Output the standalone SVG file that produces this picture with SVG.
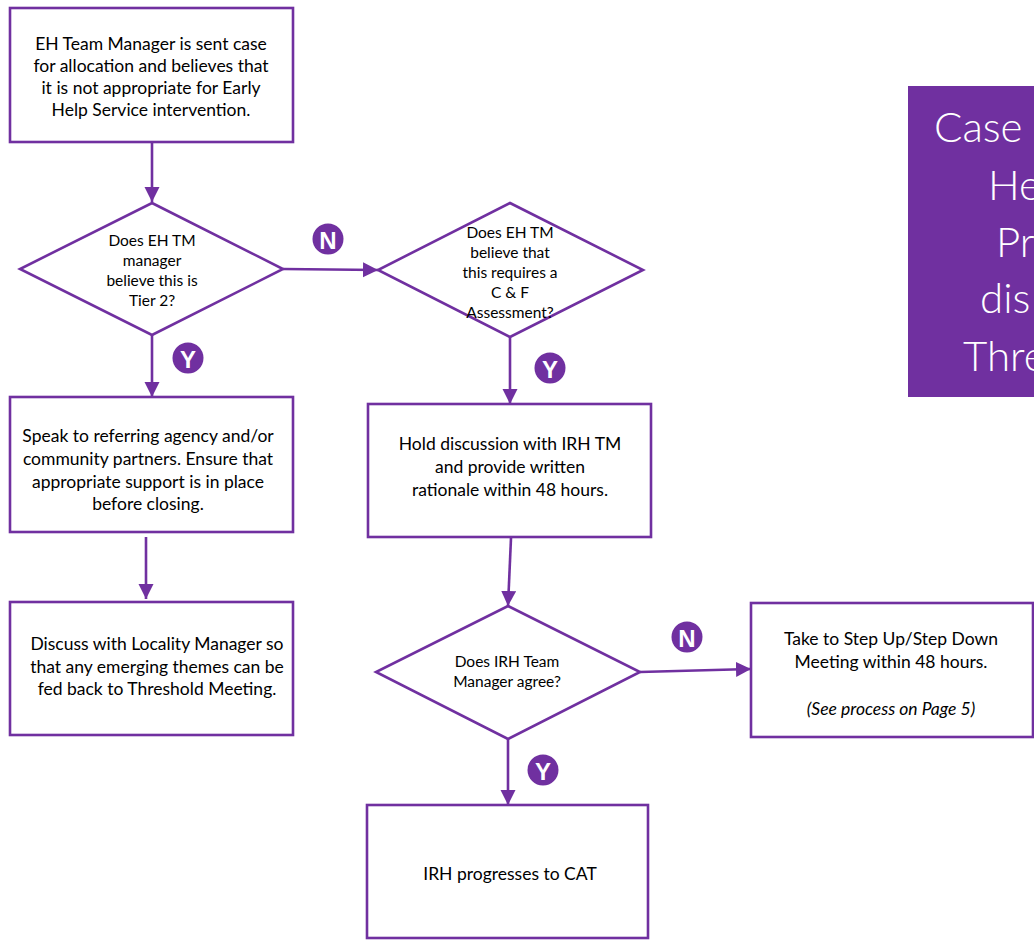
<svg xmlns="http://www.w3.org/2000/svg" width="1034" height="945" viewBox="0 0 1034 945">
<style>
.box{fill:#fff;stroke:#7030A0;stroke-width:2.6}
.dia{fill:#fff;stroke:#7030A0;stroke-width:2.6}
.t{font-family:Lato,"Liberation Sans",sans-serif;font-size:17.5px;fill:#000;text-anchor:middle;dominant-baseline:central}
.d{font-family:Lato,"Liberation Sans",sans-serif;font-size:15.5px;fill:#000;text-anchor:middle;dominant-baseline:central}
.c{fill:#7030A0}
.cl{font-family:"Liberation Sans",Arial,sans-serif;font-weight:bold;font-size:24px;fill:#fff;text-anchor:middle;dominant-baseline:central}
.title{font-family:Lato,"Open Sans",sans-serif;font-weight:300;font-size:42px;fill:#fff}
.conn{stroke:#7030A0;stroke-width:2.6;fill:none;marker-end:url(#ah)}
</style>
<defs>
<marker id="ah" markerUnits="userSpaceOnUse" markerWidth="16" markerHeight="16" refX="15" refY="7.5" orient="auto">
<path d="M0,0 L15,7.5 L0,15 Z" fill="#7030A0"/>
</marker>
</defs>
<rect width="1034" height="945" fill="#fff"/>

<g id="title">
<rect x="908" y="86" width="130" height="311" fill="#7030A0"/>
<text class="title" x="934" y="142">Case</text>
<text class="title" x="988" y="200">He</text>
<text class="title" x="996" y="257">Pr</text>
<text class="title" x="980" y="313">dis</text>
<text class="title" x="963" y="371">Thre</text>
</g>

<g id="connectors">
<line class="conn" x1="152" y1="143" x2="152" y2="202"/>
<line class="conn" x1="283" y1="269" x2="378" y2="270"/>
<line class="conn" x1="152" y1="335" x2="152" y2="397"/>
<line class="conn" x1="510" y1="337" x2="510" y2="404"/>
<line class="conn" x1="146" y1="537" x2="146" y2="599"/>
<line class="conn" x1="511" y1="538" x2="508" y2="606"/>
<line class="conn" x1="640" y1="672" x2="751" y2="669"/>
<line class="conn" x1="508" y1="739" x2="508" y2="805"/>
</g>

<g id="n1">
<rect class="box" x="10" y="8" width="283" height="134"/>
<text class="t" x="151" y="43">EH Team Manager is sent case</text>
<text class="t" x="151" y="65">for allocation and believes that</text>
<text class="t" x="151" y="87">it is not appropriate for Early</text>
<text class="t" x="151" y="109">Help Service intervention.</text>
</g>

<g id="d1">
<polygon class="dia" points="152,203 283,269 152,335 20,269"/>
<text class="d" x="152" y="240">Does  EH TM</text>
<text class="d" x="152" y="260">manager</text>
<text class="d" x="152" y="280">believe this is</text>
<text class="d" x="152" y="300">Tier 2?</text>
</g>

<g id="d2">
<polygon class="dia" points="510,203 643,270 510,337 378,270"/>
<text class="d" x="510" y="232">Does EH TM</text>
<text class="d" x="510" y="252">believe that</text>
<text class="d" x="510" y="272">this requires a</text>
<text class="d" x="510" y="292">C &amp; F</text>
<text class="d" x="510" y="312">Assessment?</text>
</g>

<g id="n2">
<rect class="box" x="10" y="397" width="283" height="135"/>
<text class="t" x="148" y="435">Speak to referring agency and/or</text>
<text class="t" x="148" y="458">community partners. Ensure that</text>
<text class="t" x="148" y="481">appropriate support is in place</text>
<text class="t" x="148" y="503">before closing.</text>
</g>

<g id="n3">
<rect class="box" x="368" y="404" width="283" height="133"/>
<text class="t" x="510" y="443">Hold discussion with IRH TM</text>
<text class="t" x="510" y="466">and provide written</text>
<text class="t" x="510" y="489">rationale within  48 hours.</text>
</g>

<g id="n4">
<rect class="box" x="10" y="602" width="283" height="133"/>
<text class="t" x="157" y="643">Discuss with Locality Manager so</text>
<text class="t" x="157" y="666">that any emerging  themes can be</text>
<text class="t" x="157" y="688">fed back to Threshold Meeting.</text>
</g>

<g id="d3">
<polygon class="dia" points="508,606 640,672 508,739 376,672"/>
<text class="d" x="507" y="661">Does IRH Team</text>
<text class="d" x="507" y="681">Manager  agree?</text>
</g>

<g id="n5">
<rect class="box" x="751" y="603" width="282" height="134"/>
<text class="t" x="891" y="638">Take to Step Up/Step Down</text>
<text class="t" x="891" y="661">Meeting  within 48 hours.</text>
<text class="t" x="891" y="708" font-style="italic">(See process on Page 5)</text>
</g>

<g id="n6">
<rect class="box" x="367" y="805" width="281" height="133"/>
<text class="t" x="510" y="873">IRH progresses to CAT</text>
</g>

<g id="labels">
<circle class="c" cx="188" cy="358" r="15.5"/><text class="cl" x="188" y="359">Y</text>
<circle class="c" cx="328" cy="239" r="15.5"/><text class="cl" x="328" y="240">N</text>
<circle class="c" cx="550" cy="368" r="15.5"/><text class="cl" x="550" y="369">Y</text>
<circle class="c" cx="687" cy="637" r="15.5"/><text class="cl" x="687" y="638">N</text>
<circle class="c" cx="543" cy="770" r="15.5"/><text class="cl" x="543" y="771">Y</text>
</g>
</svg>
